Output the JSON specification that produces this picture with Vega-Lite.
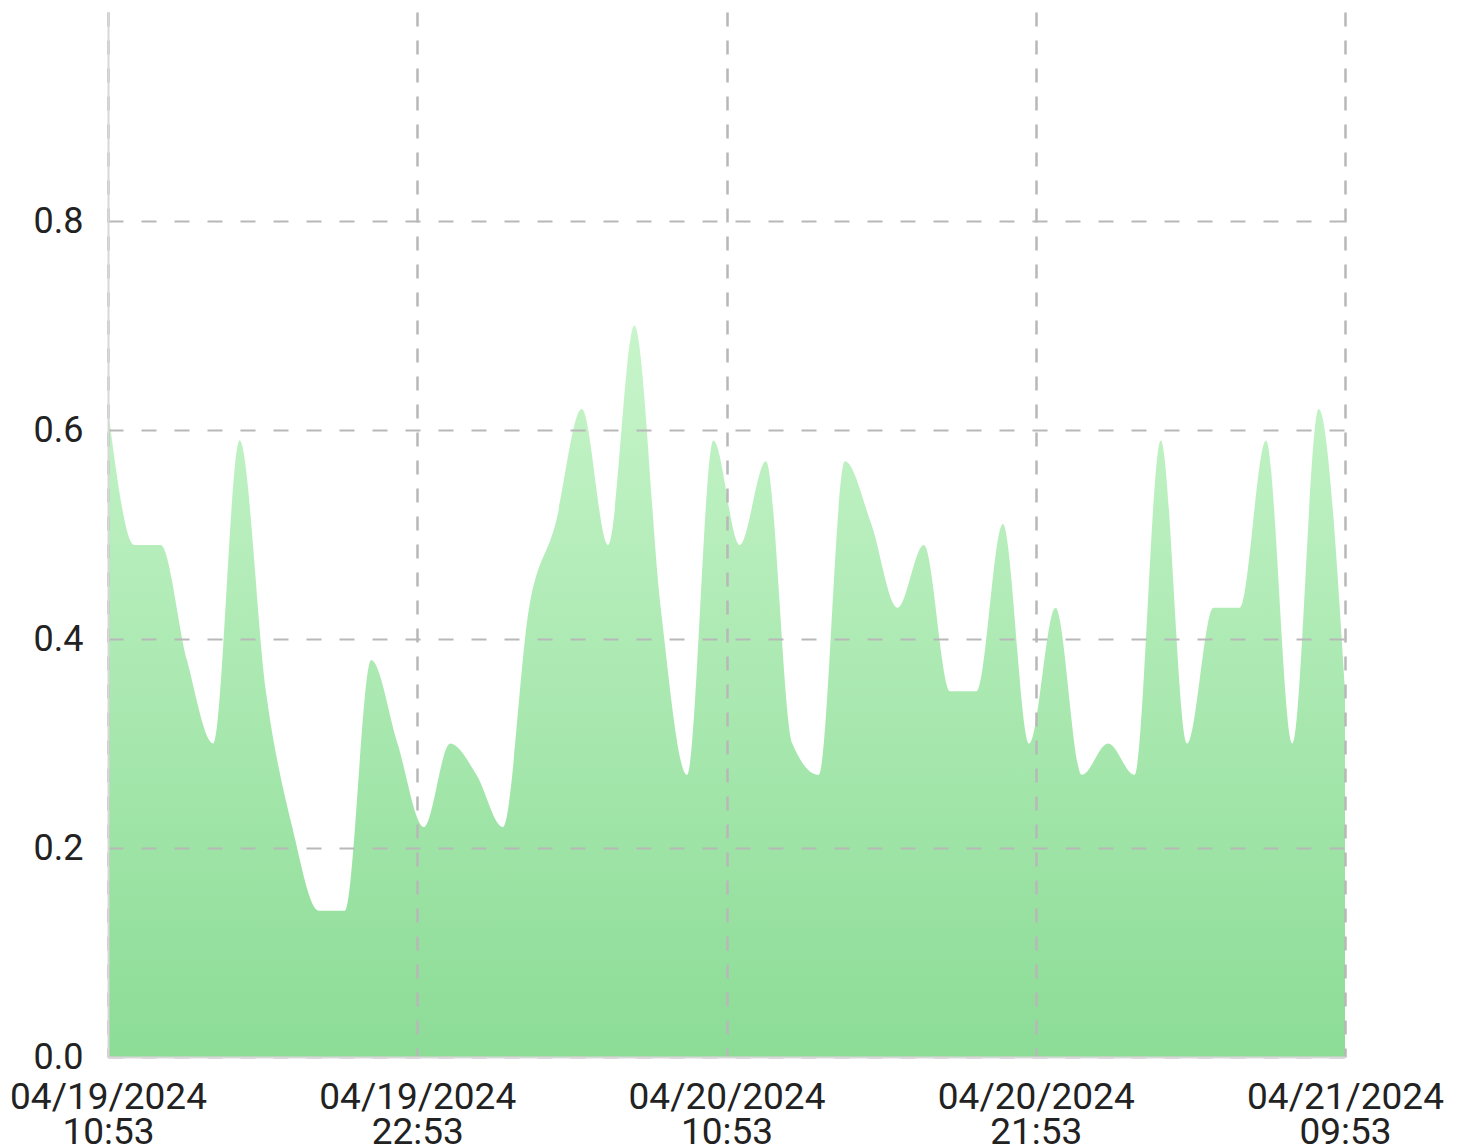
{
  "$schema": "https://vega.github.io/schema/vega-lite/v6.json",
  "width": 1237,
  "height": 1045,
  "autosize": {"type": "none"},
  "padding": {"left": 108, "top": 12, "right": 121, "bottom": 90},
  "background": "white",
  "config": {
    "view": {"stroke": null},
    "font": "Roboto",
    "axis": {
      "labelFont": "Roboto",
      "labelFontSize": 36,
      "labelColor": "#222222",
      "labelLimit": 0,
      "gridColor": "#b8b8b8",
      "gridWidth": 2,
      "domainColor": "#d8d8d8",
      "domainWidth": 2,
      "ticks": false,
      "title": null
    }
  },
  "data": {
    "values": [
      {"h": 0, "v": 0.62}, {"h": 1, "v": 0.49}, {"h": 2, "v": 0.49}, {"h": 3, "v": 0.38},
      {"h": 4, "v": 0.30}, {"h": 5, "v": 0.59}, {"h": 6, "v": 0.35}, {"h": 7, "v": 0.22},
      {"h": 8, "v": 0.14}, {"h": 9, "v": 0.14}, {"h": 10, "v": 0.38}, {"h": 11, "v": 0.30},
      {"h": 12, "v": 0.22}, {"h": 13, "v": 0.30}, {"h": 14, "v": 0.27}, {"h": 15, "v": 0.22},
      {"h": 16, "v": 0.43}, {"h": 17, "v": 0.51}, {"h": 18, "v": 0.62}, {"h": 19, "v": 0.49},
      {"h": 20, "v": 0.70}, {"h": 21, "v": 0.43}, {"h": 22, "v": 0.27}, {"h": 23, "v": 0.59},
      {"h": 24, "v": 0.49}, {"h": 25, "v": 0.57}, {"h": 26, "v": 0.30}, {"h": 27, "v": 0.27},
      {"h": 28, "v": 0.57}, {"h": 29, "v": 0.51}, {"h": 30, "v": 0.43}, {"h": 31, "v": 0.49},
      {"h": 32, "v": 0.35}, {"h": 33, "v": 0.35}, {"h": 34, "v": 0.51}, {"h": 35, "v": 0.30},
      {"h": 36, "v": 0.43}, {"h": 37, "v": 0.27}, {"h": 38, "v": 0.30}, {"h": 39, "v": 0.27},
      {"h": 40, "v": 0.59}, {"h": 41, "v": 0.30}, {"h": 42, "v": 0.43}, {"h": 43, "v": 0.43},
      {"h": 44, "v": 0.59}, {"h": 45, "v": 0.30}, {"h": 46, "v": 0.62}, {"h": 47, "v": 0.35}
    ]
  },
  "mark": {
    "type": "area",
    "interpolate": "monotone",
    "color": {
      "gradient": "linear",
      "x1": 1, "y1": 1, "x2": 1, "y2": 0,
      "stops": [
        {"offset": 0, "color": "#8cdc96"},
        {"offset": 1, "color": "#c8f5cb"}
      ]
    }
  },
  "encoding": {
    "x": {
      "field": "h",
      "type": "quantitative",
      "scale": {"domain": [0, 47], "nice": false, "zero": false},
      "axis": {
        "values": [0, 11.75, 23.5, 35.25, 47],
        "labelExpr": "datum.value == 0 ? ['04/19/2024', '10:53'] : datum.value == 11.75 ? ['04/19/2024', '22:53'] : datum.value == 23.5 ? ['04/20/2024', '10:53'] : datum.value == 35.25 ? ['04/20/2024', '21:53'] : ['04/21/2024', '09:53']",
        "labelFontSize": 37,
        "labelFlush": false,
        "labelOverlap": false,
        "labelBound": false,
        "labelLineHeight": 35,
        "labelPadding": 22,
        "gridDash": [14, 14],
        "gridWidth": 2.5,
        "zindex": 1
      }
    },
    "y": {
      "field": "v",
      "type": "quantitative",
      "scale": {"domain": [0, 1], "nice": false},
      "axis": {
        "values": [0, 0.2, 0.4, 0.6, 0.8],
        "format": ".1f",
        "labelPadding": 25,
        "gridDash": [15, 18],
        "zindex": 1
      }
    }
  }
}
